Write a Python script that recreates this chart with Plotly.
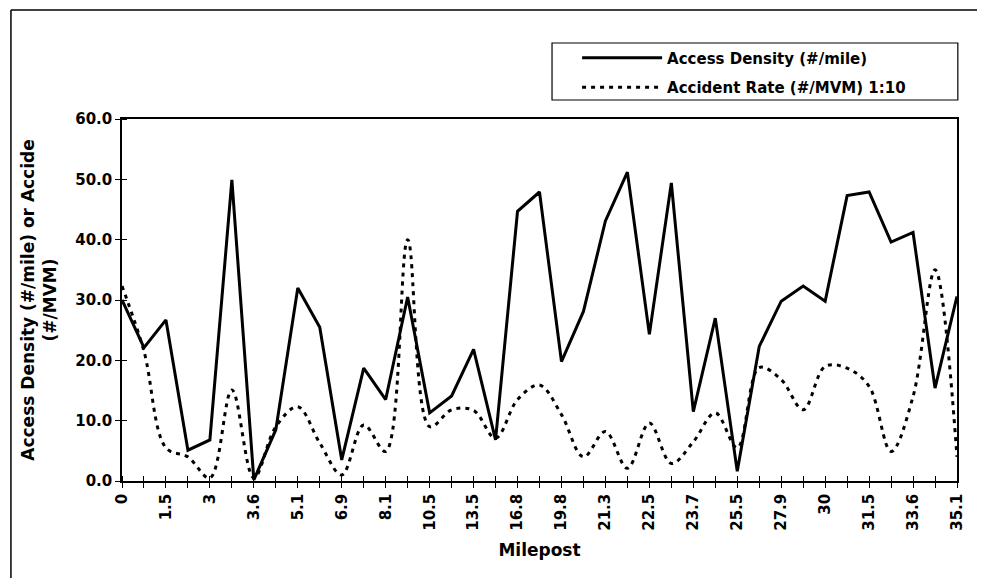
import plotly.graph_objects as go

# milepost labels shown on the axis (every other category is unlabeled)
milepost = ["0", "", "1.5", "", "3", "", "3.6", "", "5.1", "", "6.9", "", "8.1", "",
            "10.5", "", "13.5", "", "16.8", "", "19.8", "", "21.3", "", "22.5", "",
            "23.7", "", "25.5", "", "27.9", "", "30", "", "31.5", "", "33.6", "", "35.1"]

access_density = [30.0, 22.1, 26.7, 5.1, 6.8, 49.9, 0.2, 8.5, 32.0, 25.5,
                  3.5, 18.7, 13.5, 30.5, 11.3, 14.1, 21.8, 6.8, 44.7, 47.9,
                  19.8, 28.1, 43.1, 51.2, 24.3, 49.4, 11.5, 27.0, 1.6, 22.3,
                  29.8, 32.3, 29.8, 47.3, 47.9, 39.6, 41.2, 15.4, 30.6]

accident_rate = [32.3, 21.5, 5.5, 4.0, 0.5, 15.1, 0.5, 9.0, 12.3, 6.3,
                 1.0, 9.3, 4.9, 40.0, 9.0, 11.8, 11.7, 7.1, 13.5, 15.9,
                 11.0, 4.0, 8.2, 2.1, 9.6, 2.9, 6.5, 11.3, 5.5, 18.8,
                 16.8, 11.8, 19.0, 18.7, 15.7, 4.9, 14.0, 35.0, 4.0]

idx = list(range(len(milepost)))
FONT = "DejaVu Sans"

fig = go.Figure()
fig.add_trace(go.Scatter(x=idx, y=access_density, mode="lines",
                         name="Access Density (#/mile)", legendgroup="a",
                         line=dict(color="black", width=3)))
fig.add_trace(go.Scatter(x=idx, y=accident_rate, mode="lines",
                         name="Accident Rate (#/MVM) 1:10", legendgroup="b",
                         line=dict(color="black", width=3, dash="4px,5px",
                                   shape="spline", smoothing=1)))

fig.update_layout(
    width=969, height=570,
    margin=dict(l=114, r=20, t=111, b=97),
    plot_bgcolor="white", paper_bgcolor="white",
    font=dict(family=FONT, size=15, color="black", weight="bold"),
    showlegend=True,
    legend=dict(x=0.545, y=1.214, xanchor="left", yanchor="top",
                bgcolor="rgba(0,0,0,0)", borderwidth=0,
                itemwidth=80, tracegroupgap=7,
                font=dict(family=FONT, size=15, weight="bold")),
    shapes=[
        # outer chart frame (left and top edges)
        dict(type="line", xref="paper", yref="paper", x0=-0.133, x1=1.05,
             y0=1.301, y1=1.301, line=dict(color="black", width=1.5)),
        dict(type="line", xref="paper", yref="paper", x0=-0.133, x1=-0.133,
             y0=1.301, y1=-0.3, line=dict(color="black", width=1.5)),
        # legend frame
        dict(type="rect", xref="paper", yref="paper", x0=0.515, x1=1.001,
             y0=1.0525, y1=1.21, line=dict(color="black", width=1.2),
             fillcolor="white", layer="below"),
    ],
)

fig.update_xaxes(
    range=[0, len(milepost) - 1],
    tickmode="array", tickvals=idx, ticktext=milepost, tickangle=-90,
    ticks="outside", ticklen=5, tickcolor="black",
    minor=dict(ticks="inside", ticklen=5, dtick=1, tick0=0, tickcolor="black"),
    showline=True, linecolor="black", linewidth=1.5, mirror=True,
    showgrid=False, zeroline=False,
    title=dict(text="Milepost", font=dict(family=FONT, size=17, weight="bold"),
               standoff=14),
)
fig.update_yaxes(
    range=[0, 60], dtick=10, tickformat=".1f",
    ticks="outside", ticklen=5, tickcolor="black",
    minor=dict(ticks="inside", ticklen=5, dtick=10, tickcolor="black"),
    showline=True, linecolor="black", linewidth=1.5, mirror=True,
    showgrid=False, zeroline=False,
    title=dict(text="Access Density (#/mile) or Accide<br>(#/MVM)",
               font=dict(family=FONT, size=17, weight="bold"), standoff=14),
)

fig.write_html("out.html")
